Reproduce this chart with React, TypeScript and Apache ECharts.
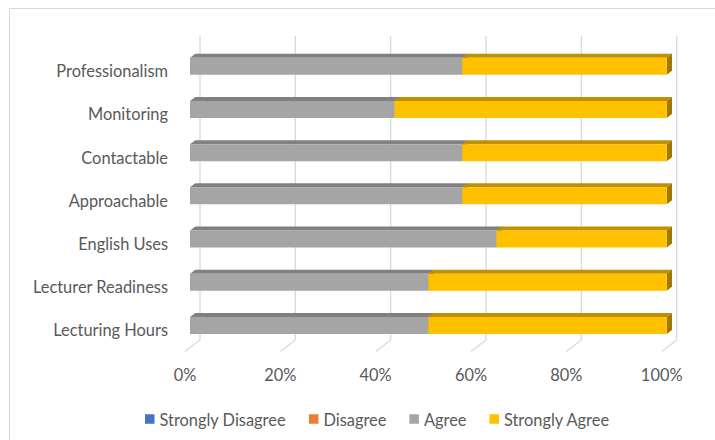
import React, { useEffect, useRef } from "react";
import * as echarts from "echarts";

const categories = [
  "Lecturing Hours",
  "Lecturer Readiness",
  "English Uses",
  "Approachable",
  "Contactable",
  "Monitoring",
  "Professionalism",
];
const seriesNames = ["Strongly Disagree", "Disagree", "Agree", "Strongly Agree"];
const stronglyDisagree = [0, 0, 0, 0, 0, 0, 0];
const disagree = [0, 0, 0, 0, 0, 0, 0];
const agree = [50, 50, 64.3, 57.1, 57.1, 42.9, 57.1];
const stronglyAgree = [50, 50, 35.7, 42.9, 42.9, 57.1, 42.9];
const xTicks = [0, 20, 40, 60, 80, 100];

const frontColors = ["#4472C4", "#ED7D31", "#A5A5A5", "#FFC000"];
const topColors = ["#2F5597", "#C55A11", "#808080", "#BF9000"];
const sideColors = ["#2F5597", "#C55A11", "#6E6E6E", "#A07A00"];

const FONT = "Lato, 'Open Sans', sans-serif";
const TEXT_COLOR = "#595959";
const FONT_SIZE = 16.4;

// 3D geometry offsets (px)
const BAR_DX = 5; // bar front offset from floor-front plane
const BAR_DY = -4.5;
const BAR_HALF = 8.5;
const DEPTH_DX = 5.3;
const DEPTH_DY = -4;
const WALL_DX = 15;
const WALL_DY = -11.7;

export default function App() {
  const ref = useRef<HTMLDivElement>(null);

  useEffect(() => {
    if (!ref.current) return;
    const chart = echarts.init(ref.current, undefined, { renderer: "svg" });
    const all = [stronglyDisagree, disagree, agree, stronglyAgree];

    const barSeries = all.map((vals, si) => {
      const data = categories.map((_, c) => {
        let start = 0;
        for (let k = 0; k < si; k++) start += all[k][c];
        return [start, start + vals[c], c];
      });
      return {
        name: seriesNames[si],
        type: "custom",
        z: 3,
        itemStyle: { color: frontColors[si] },
        encode: { x: [0, 1], y: 2 },
        data,
        renderItem: (params: any, api: any) => {
          const start = api.value(0);
          const end = api.value(1);
          const cat = api.value(2);
          if (end - start <= 0) return null;
          const p0 = api.coord([start, cat]);
          const p1 = api.coord([end, cat]);
          const x0 = p0[0] + BAR_DX;
          const x1 = p1[0] + BAR_DX;
          const cy = p0[1] + BAR_DY;
          const yt = cy - BAR_HALF;
          const yb = cy + BAR_HALF;
          return {
            type: "group",
            children: [
              {
                type: "polygon",
                shape: {
                  points: [
                    [x0, yt],
                    [x0 + DEPTH_DX, yt + DEPTH_DY],
                    [x1 + DEPTH_DX, yt + DEPTH_DY],
                    [x1, yt],
                  ],
                },
                style: { fill: topColors[si] },
              },
              {
                type: "polygon",
                shape: {
                  points: [
                    [x1, yt],
                    [x1 + DEPTH_DX, yt + DEPTH_DY],
                    [x1 + DEPTH_DX, yb + DEPTH_DY],
                    [x1, yb],
                  ],
                },
                style: { fill: sideColors[si] },
              },
              {
                type: "rect",
                shape: { x: x0, y: yt, width: x1 - x0, height: yb - yt },
                style: { fill: frontColors[si] },
              },
            ],
          };
        },
      };
    });

    const wallSeries = {
      type: "custom",
      name: "walls",
      z: 1,
      silent: true,
      encode: { x: 0, y: 1 },
      data: xTicks.map((v) => [v, 0]),
      renderItem: (params: any, api: any) => {
        const p = api.coord([api.value(0), 0]);
        const cs = params.coordSys;
        const bottom = cs.y + cs.height;
        const bx = p[0] + WALL_DX;
        return {
          type: "group",
          children: [
            {
              type: "line",
              shape: { x1: bx, y1: cs.y - 13, x2: bx, y2: bottom + WALL_DY },
              style: { stroke: "#D9D9D9", lineWidth: 1.3 },
            },
            {
              type: "line",
              shape: { x1: bx, y1: bottom + WALL_DY, x2: p[0], y2: bottom },
              style: { stroke: "#D9D9D9", lineWidth: 1.3 },
            },
          ],
        };
      },
    };

    chart.setOption({
      animation: false,
      textStyle: { fontFamily: FONT },
      graphic: [
        {
          type: "rect",
          shape: { x: 9.5, y: 8.5, width: 800, height: 600 },
          style: { fill: "none", stroke: "#D9D9D9", lineWidth: 1 },
          silent: true,
        },
      ],
      grid: { left: 185, top: 49.1, width: 476.7, height: 302.5 },
      xAxis: {
        type: "value",
        min: 0,
        max: 100,
        interval: 20,
        axisLine: { show: false },
        axisTick: { show: false },
        splitLine: { show: false },
        axisLabel: {
          formatter: "{value}%",
          color: TEXT_COLOR,
          fontSize: FONT_SIZE,
          fontFamily: FONT,
          margin: 14.5,
        },
      },
      yAxis: {
        type: "category",
        data: categories,
        axisLine: { show: false },
        axisTick: { show: false },
        splitLine: { show: false },
        axisLabel: {
          color: TEXT_COLOR,
          fontSize: FONT_SIZE,
          fontFamily: FONT,
          margin: 17,
        },
      },
      legend: {
        data: seriesNames,
        left: 140,
        top: 406,
        icon: "rect",
        itemWidth: 9.5,
        itemHeight: 9.5,
        itemGap: 23,
        textStyle: { color: TEXT_COLOR, fontSize: FONT_SIZE, fontFamily: FONT },
      },
      series: [wallSeries, ...barSeries],
    });

    return () => chart.dispose();
  }, []);

  return (
    <div
      ref={ref}
      style={{ position: "absolute", left: 0, top: 0, width: 715, height: 440, background: "#fff" }}
    />
  );
}
